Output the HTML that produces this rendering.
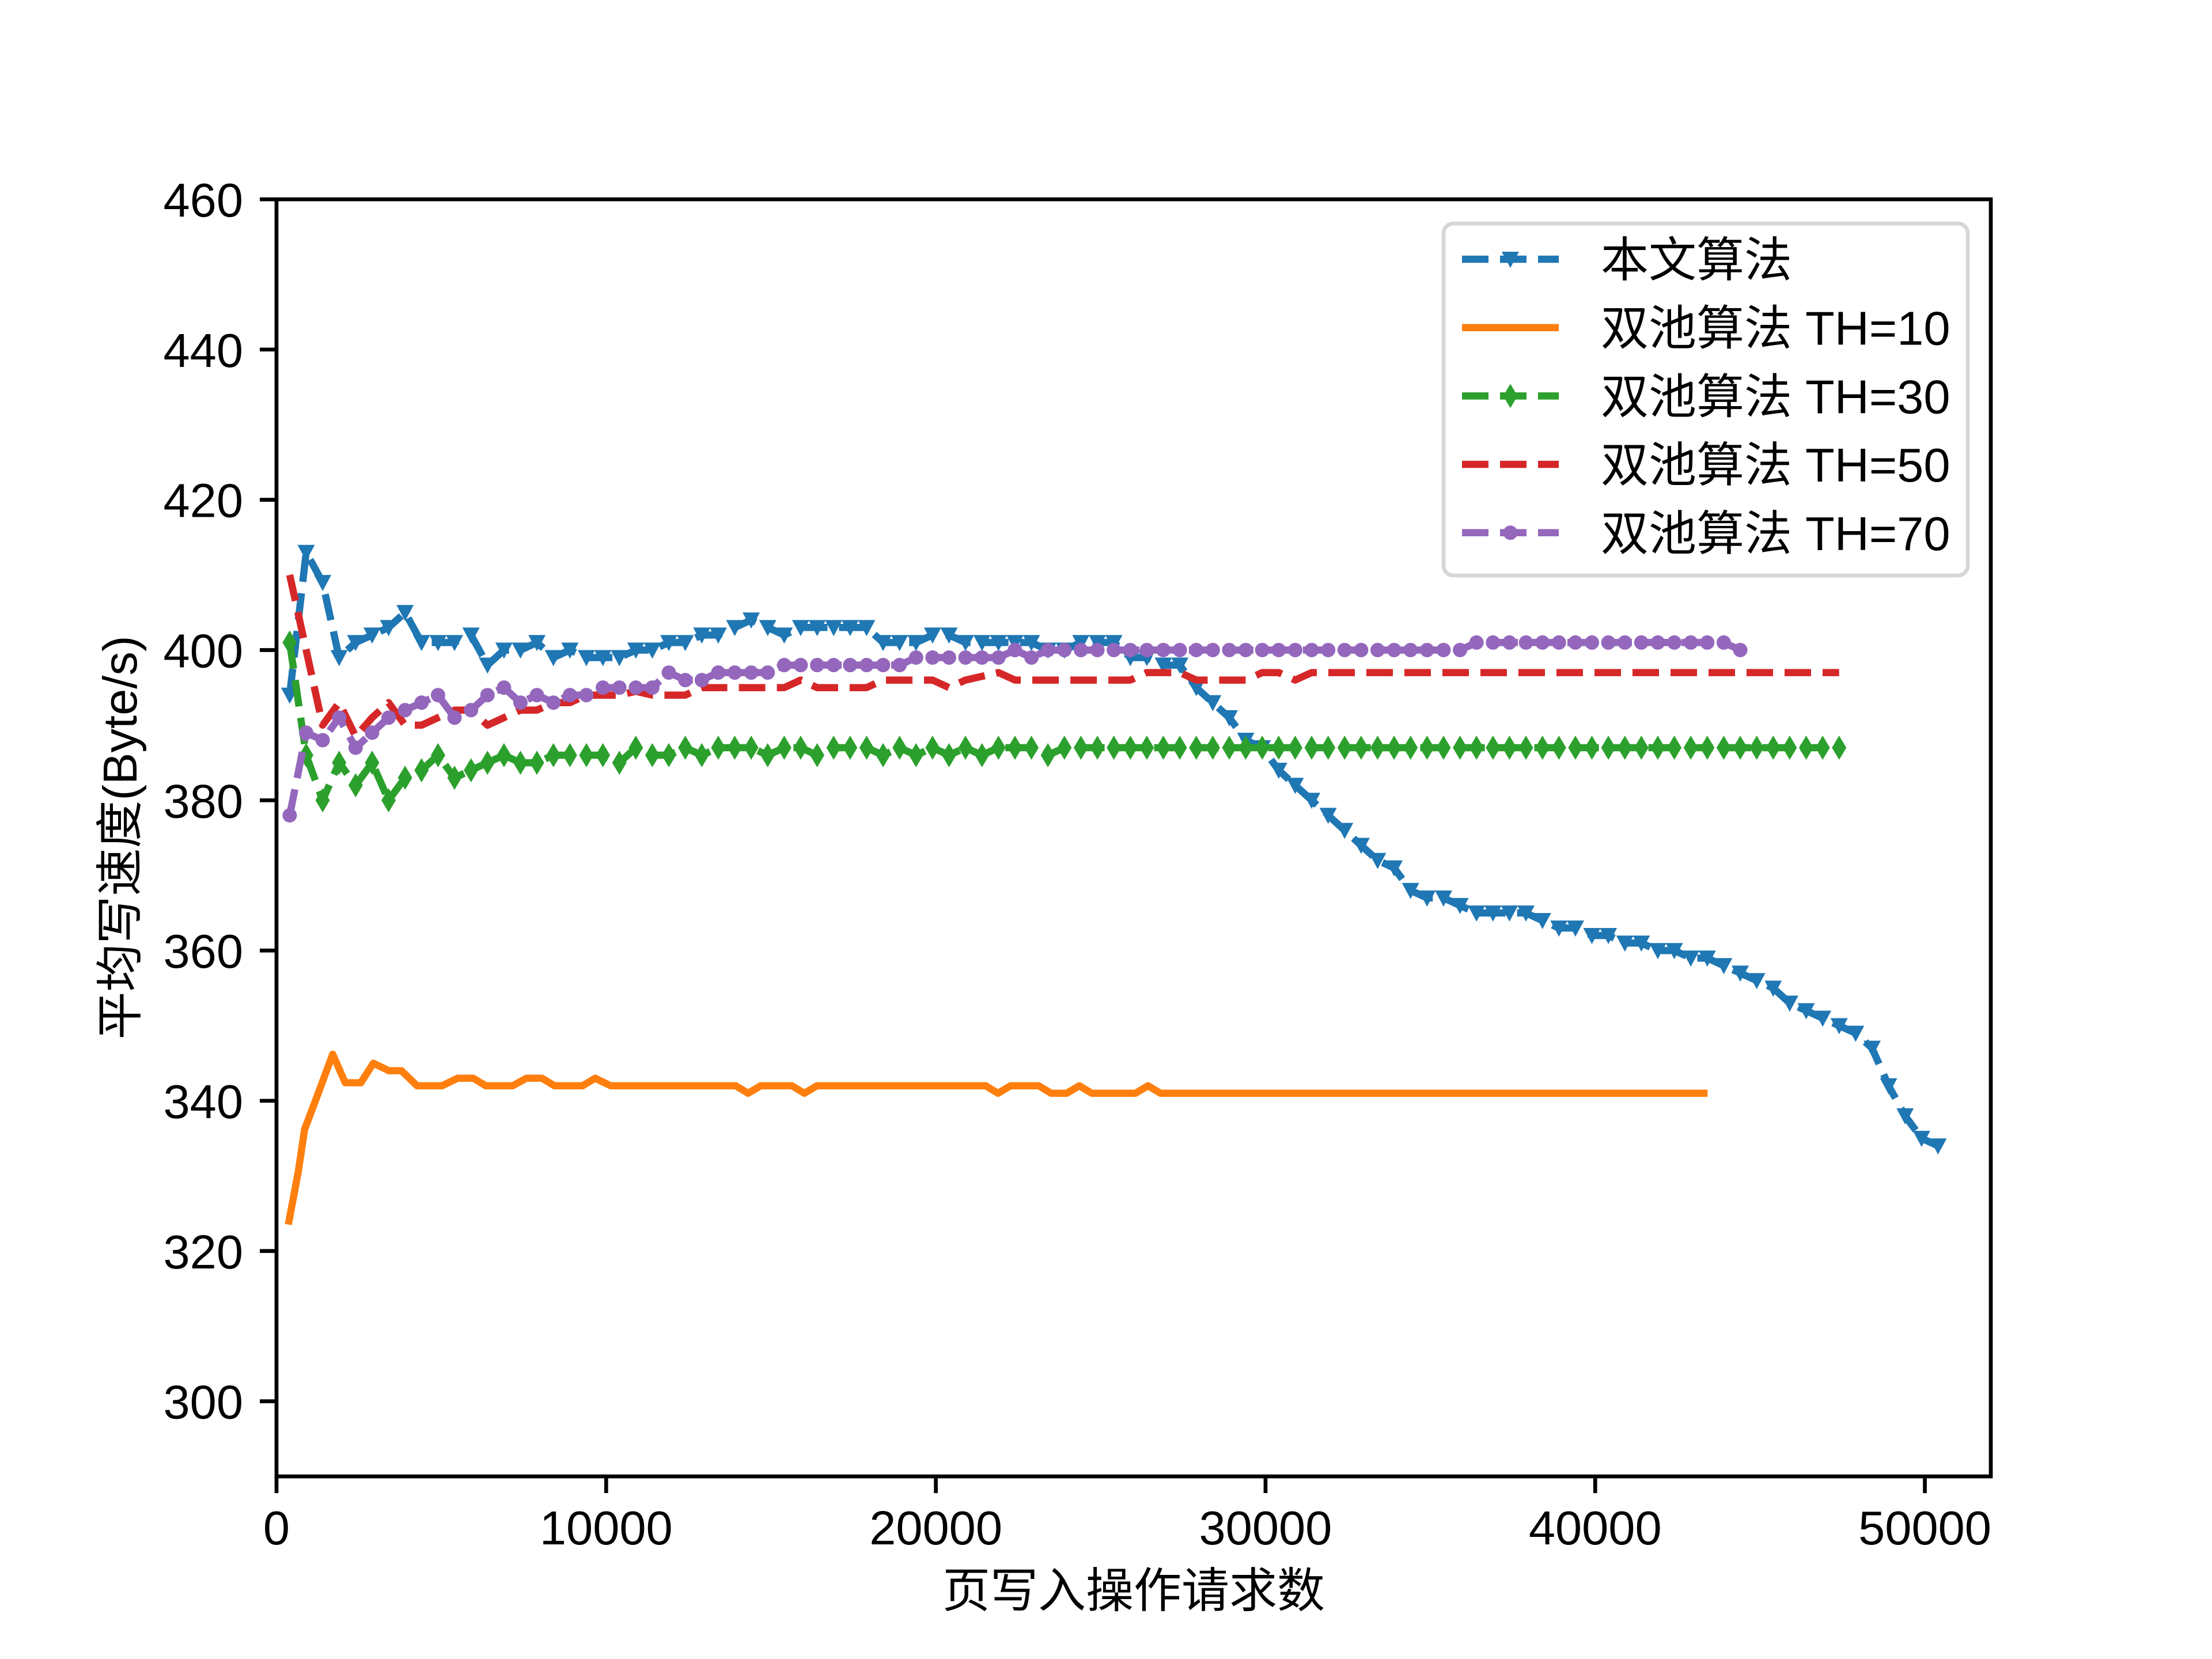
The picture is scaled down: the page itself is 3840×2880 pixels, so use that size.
<!DOCTYPE html>
<html><head><meta charset="utf-8">
<style>
html,body{margin:0;padding:0;background:#fff;}
svg{display:block;}
text{font-family:"Liberation Sans","Noto Sans CJK SC",sans-serif;fill:#000;}
</style></head>
<body>
<svg id="chart" xmlns="http://www.w3.org/2000/svg" width="3840" height="2880" viewBox="0 0 3840 2880">
<rect x="0" y="0" width="3840" height="2880" fill="#fff"/>
<g id="plot"></g>
<g id="axes"></g>
<g id="legend"></g>
<text x="1968" y="2790" font-size="83" text-anchor="middle">页写入操作请求数</text>
<text transform="translate(237,1454) rotate(-90)" font-size="83" text-anchor="middle">平均写速度(Byte/s)</text>
</svg>
<script>
const xTicks = [0, 10000, 20000, 30000, 40000, 50000];
const yTicks = [300, 320, 340, 360, 380, 400, 420, 440, 460];
const seriesNames = ["本文算法", "双池算法 TH=10", "双池算法 TH=30", "双池算法 TH=50", "双池算法 TH=70"];
const blueValues = [394,413,409,399,401,402,403,405,401,401,401,402,398,400,400,401,399,400,399,399,399,400,400,401,401,402,402,403,404,403,402,403,403,403,
403,403,401,401,401,402,402,401,401,401,401,401,400,400,401,401,401,399,399,398,398,395,393,391,388,387,384,382,380,378,
376,374,372,371,368,367,367,366,365,365,365,365,364,363,363,362,362,361,361,360,360,359,
359,358,357,356,355,353,352,351,350,349,347,342,338,335,334];
const greenValues = [401,386,380,385,382,385,380,383,384,386,383,384,385,386,385,385,386,386,386,386,385,387,386,386,387,386,387,387,387,386,387,387,
386,387,387,387,386,387,386,387,386,387,386,387,387,387,386,
387,387,387,387,387,387,387,387,387,387,387,387,387,387,387,387,387,387,387,387,387,387,387,387,
387,387,387,387,387,387,387,387,387,387,387,387,387,387,387,387,387,387,387,387,387,387,387,387];
const redValues = [410,400,390,393,388.5,391,393,390,390,391,392,392,390,391,392,392,393,393,394,394,394,394.5,394,394,394,395,395,395,395,395,395,396,
395,395,395,395,396,396,396,396,395,396,396.5,397,396,396,396,396,396,396,396,396,397,397,397,396,396,396,396,397,397,396,
397,397,397,397,397,397,397,397,397,397,397,397,397,397,397,397,397,397,397,397,397,397,397,397,397,397,397,397,397,397,397,397,397];
const purpleValues = [378,389,388,391,387,389,391,392,393,394,391,392,394,395,393,394,393,394,394,395,395,395,395,397,396,396,397,397,397,397,398,398,398,398,398,
398,398,398,399,399,399,399,399,399,400,399,
400,400,400,400,400,400,400,400,400,400,400,400,400,400,400,400,400,400,400,400,400,400,400,400,400,400,
401,401,401,401,401,401,401,401,401,401,401,401,401,401,401,401,400];
const orangeX = [380,663,853,1232,1705,2085,2558,2937,3411,3790,4264,5022,5495,5969,6348,7163,7580,8054,8433,9286,9665,10138,13928,14307,14686,15634,16013,16392,21508,21887,22266,23119,23498,23972,24351,24730,26056,26435,26814,43300];
const orangeValues = [324,330.6,336.2,340.6,346.2,342.4,342.4,345,344,344,342,342,343,343,342,342,343,343,342,342,343,342,342,341,342,342,341,342,342,341,342,342,341,341,342,341,341,342,341,341];
const xStart = 400, xStep = 500;

const NS = "http://www.w3.org/2000/svg";
const L = 480, R = 3456, T = 346, B = 2563;
const xMin = 0, xMax = 52000, yMin = 290, yMax = 460;
function sx(v){ return L + (v - xMin) / (xMax - xMin) * (R - L); }
function sy(v){ return B - (v - yMin) / (yMax - yMin) * (B - T); }
function mk(tag, attrs, parent){
  const e = document.createElementNS(NS, tag);
  for (const k in attrs) e.setAttribute(k, attrs[k]);
  parent.appendChild(e);
  return e;
}
const plot = document.getElementById('plot');
const axes = document.getElementById('axes');
const legend = document.getElementById('legend');

function xsFor(vals){ return vals.map((_, i) => xStart + xStep * i); }
function markerPath(type, cx, cy){
  if (type === 'v') return `M${cx-15},${cy-13} L${cx+15},${cy-13} L${cx},${cy+15} Z`;
  if (type === 'd') return `M${cx},${cy-21} L${cx+12.5},${cy} L${cx},${cy+21} L${cx-12.5},${cy} Z`;
  return null;
}
function drawSeries(xs, vals, color, dashed, marker, name){
  const g = mk('g', {}, plot);
  
  
  const pts = xs.map((x, i) => sx(x).toFixed(1) + ',' + sy(vals[i]).toFixed(1)).join(' ');
  const line = mk('polyline', {points: pts, fill: 'none', stroke: color, 'stroke-width': 12.5, 'stroke-linejoin': 'round', 'stroke-linecap': dashed ? 'butt' : 'square'}, g);
  if (dashed) line.setAttribute('stroke-dasharray', '46 20');
  
  
  if (marker) {
    xs.forEach((x, i) => {
      const cx = sx(x), cy = sy(vals[i]);
      let m;
      if (marker === 'o') m = mk('circle', {cx: cx, cy: cy, r: 12.5, fill: color}, g);
      else m = mk('path', {d: markerPath(marker, cx, cy), fill: color}, g);
      
      
    });
  }
}
drawSeries(xsFor(blueValues), blueValues, '#1f77b4', true, 'v', 'proposed-algorithm');
drawSeries(orangeX, orangeValues, '#ff7f0e', false, null, 'th10');
drawSeries(xsFor(greenValues), greenValues, '#2ca02c', true, 'd', 'th30');
drawSeries(xsFor(redValues), redValues, '#d62728', true, null, 'th50');
drawSeries(xsFor(purpleValues), purpleValues, '#9467bd', true, 'o', 'th70');

const frame = mk('rect', {x: L, y: T, width: R - L, height: B - T, fill: 'none', stroke: '#000', 'stroke-width': 6.7}, axes);


xTicks.forEach(v => {
  const x = sx(v);
  const t = mk('line', {x1: x, y1: B, x2: x, y2: B + 29, stroke: '#000', 'stroke-width': 6.7}, axes);
  
  
  const lb = mk('text', {x: x, y: B + 118, 'font-size': 83, 'text-anchor': 'middle'}, axes);
  lb.textContent = String(v);
  
  
});
yTicks.forEach(v => {
  const y = sy(v);
  const t = mk('line', {x1: L - 29, y1: y, x2: L, y2: y, stroke: '#000', 'stroke-width': 6.7}, axes);
  
  
  const lb = mk('text', {x: L - 58, y: y + 30, 'font-size': 83, 'text-anchor': 'end'}, axes);
  lb.textContent = String(v);
  
  
});

const box = mk('rect', {x: 2506, y: 388, width: 910, height: 611, rx: 17, fill: '#fff', 'fill-opacity': 0.8, stroke: '#d6d6d6', 'stroke-width': 6.7}, legend);


const legColors = ['#1f77b4', '#ff7f0e', '#2ca02c', '#d62728', '#9467bd'];
const legDash = [true, false, true, true, true];
const legMarker = ['v', null, 'd', null, 'o'];
seriesNames.forEach((name, i) => {
  const y = 450 + i * 118.7;
  const g = mk('g', {}, legend);
  
  
  const ln = mk('line', {x1: 2538, y1: y, x2: 2706, y2: y, stroke: legColors[i], 'stroke-width': 12.5}, g);
  if (legDash[i]) ln.setAttribute('stroke-dasharray', '46 20');
  
  
  if (legMarker[i] === 'o') {
    const c = mk('circle', {cx: 2622, cy: y, r: 12.5, fill: legColors[i]}, g);
    
    
  } else if (legMarker[i]) {
    const p = mk('path', {d: markerPath(legMarker[i], 2622, y), fill: legColors[i]}, g);
    
    
  }
  const tx = mk('text', {x: 2779, y: y + 30, 'font-size': 83}, g);
  tx.textContent = name;
  
  
});
</script>
</body></html>
